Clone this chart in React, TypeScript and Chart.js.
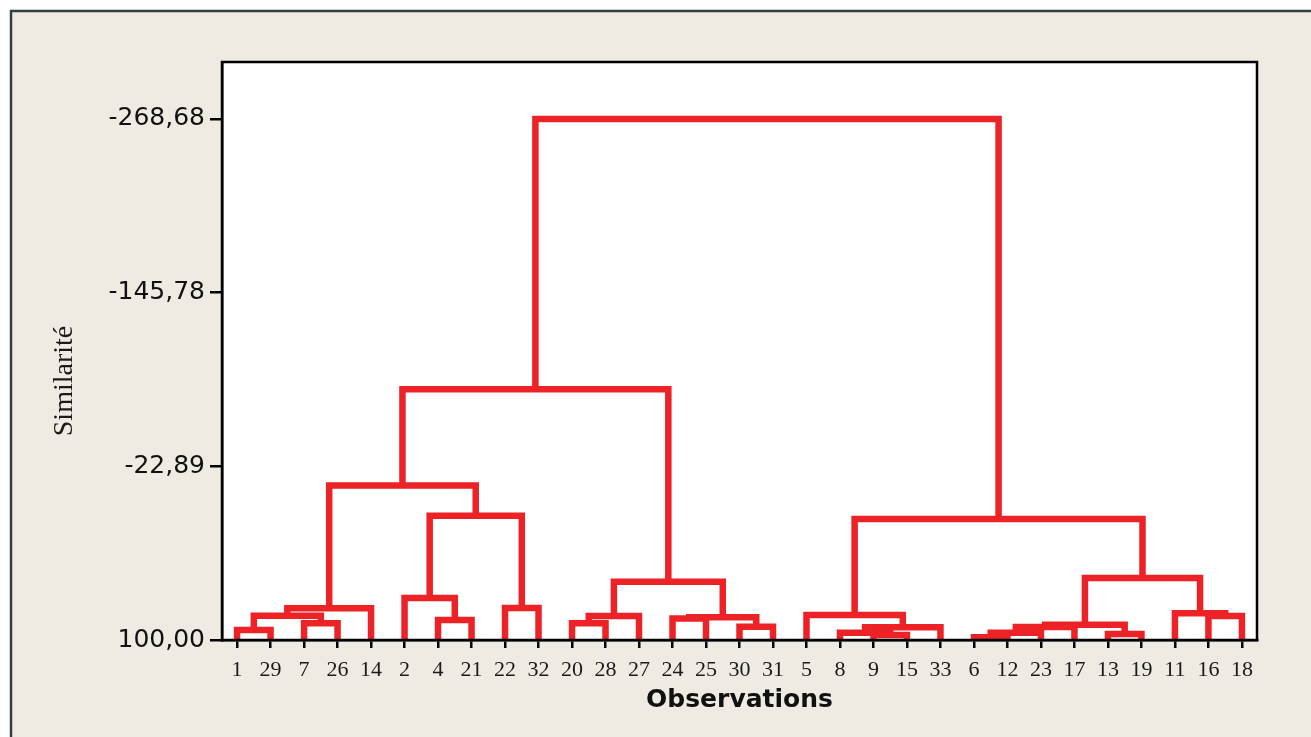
import React, { useEffect, useRef } from 'react';
import { Chart, registerables } from 'chart.js';

Chart.register(...registerables);

// Leaves in dendrogram order
const leafLabels = ['1', '29', '7', '26', '14', '2', '4', '21', '22', '32', '20', '28', '27', '24', '25', '30', '31', '5', '8', '9', '15', '33', '6', '12', '23', '17', '13', '19', '11', '16', '18'];

// Merge table: ids < 31 are leaves, id 31+k is merge k
const mergeLeft = [0, 2, 31, 33, 6, 5, 8, 36, 34, 10, 40, 13, 15, 42, 41, 39, 19, 18, 48, 17, 22, 51, 52, 26, 53, 29, 28, 55, 50, 46];
const mergeRight = [1, 3, 32, 4, 7, 35, 9, 37, 38, 11, 12, 14, 16, 43, 44, 45, 20, 47, 21, 49, 23, 24, 25, 27, 54, 30, 56, 57, 58, 59];
const mergeHeight = [92.9, 88.2, 82.8, 77.6, 85.8, 70.2, 77.4, 12.1, -9.4, 88.2, 83.0, 84.8, 90.6, 83.9, 58.8, -77.5, 96.5, 94.8, 91.0, 82.3, 98.1, 94.8, 90.8, 95.8, 89.2, 83.0, 81.1, 56.1, 14.4, -268.68];

const yTickValues = [100, -22.89, -145.78, -268.68];
const leafBase = 100;
const yMin = -309;
const yMax = 100;

const RED = '#EC2227';

function buildDatasets() {
  const xs: number[] = leafLabels.map((_, i) => i);
  const hs: number[] = leafLabels.map(() => leafBase);
  const datasets: any[] = [];
  mergeLeft.forEach((l, k) => {
    const r = mergeRight[k];
    const h = mergeHeight[k];
    const xl = xs[l];
    const xr = xs[r];
    datasets.push({
      data: [
        { x: xl, y: hs[l] },
        { x: xl, y: h },
        { x: xr, y: h },
        { x: xr, y: hs[r] },
      ],
      showLine: true,
      borderColor: RED,
      backgroundColor: RED,
      borderWidth: 6.5,
      pointRadius: 0,
      borderJoinStyle: 'miter',
      borderCapStyle: 'butt',
      tension: 0,
      clip: false,
    });
    xs.push((xl + xr) / 2);
    hs.push(h);
  });
  return datasets;
}

const framePlugin = {
  id: 'framePlugin',
  beforeDraw(chart: any) {
    const { ctx, width, height, chartArea } = chart;
    ctx.save();
    ctx.fillStyle = '#ffffff';
    ctx.fillRect(0, 0, width, height);
    ctx.fillStyle = '#EFEBE2';
    ctx.fillRect(10, 10, width - 10, height - 10);
    ctx.strokeStyle = '#34403F';
    ctx.lineWidth = 2.5;
    ctx.beginPath();
    ctx.moveTo(11, height);
    ctx.lineTo(11, 11);
    ctx.lineTo(width, 11);
    ctx.stroke();
    ctx.fillStyle = '#ffffff';
    ctx.fillRect(chartArea.left, chartArea.top, chartArea.right - chartArea.left, chartArea.bottom - chartArea.top);
    // y title
    ctx.translate(65, 381);
    ctx.rotate(-Math.PI / 2);
    ctx.fillStyle = '#1a1a1a';
    ctx.font = '28px "Liberation Serif"';
    ctx.textAlign = 'center';
    ctx.textBaseline = 'middle';
    ctx.fillText('Similarité', 0, 0);
    ctx.restore();
  },
  afterDraw(chart: any) {
    const { ctx, chartArea } = chart;
    ctx.save();
    ctx.strokeStyle = '#000';
    ctx.lineWidth = 2.5;
    ctx.strokeRect(chartArea.left, chartArea.top, chartArea.right - chartArea.left, chartArea.bottom - chartArea.top);
    ctx.restore();
  },
};

export default function App() {
  const ref = useRef<HTMLCanvasElement | null>(null);
  useEffect(() => {
    if (!ref.current) return;
    const chart = new Chart(ref.current, {
      type: 'scatter',
      data: { datasets: buildDatasets() },
      options: {
        animation: false,
        responsive: false,
        devicePixelRatio: 1,
        layout: { padding: { left: 0, top: 62, right: 54, bottom: 0 } },
        plugins: { legend: { display: false }, tooltip: { enabled: false } },
        scales: {
          x: {
            type: 'linear',
            min: -0.45,
            max: leafLabels.length - 1 + 0.45,
            afterFit: (s: any) => { s.height = 97; },
            afterBuildTicks: (s: any) => { s.ticks = leafLabels.map((_, i) => ({ value: i })); },
            ticks: {
              autoSkip: false,
              maxRotation: 0,
              padding: 9,
              color: '#1a1a1a',
              font: { family: '"Liberation Serif"', size: 22 },
              callback: (v: any) => leafLabels[Math.round(Number(v))] ?? '',
            },
            grid: { display: true, drawOnChartArea: false, drawTicks: true, tickLength: 8, color: '#000', lineWidth: 2.5 },
            border: { display: true, color: '#000', width: 2.5 },
            title: {
              display: true,
              text: 'Observations',
              color: '#111',
              font: { family: '"DejaVu Sans"', size: 25, weight: 'bold' },
              padding: { top: 0, bottom: 22 },
            },
          },
          y: {
            type: 'linear',
            reverse: true,
            min: yMin,
            max: yMax,
            afterFit: (s: any) => { s.width = 222; },
            afterBuildTicks: (s: any) => { s.ticks = yTickValues.map((v) => ({ value: v })); },
            ticks: {
              padding: 5,
              color: '#111',
              font: { family: '"DejaVu Sans"', size: 25 },
              callback: (v: any) => Number(v).toFixed(2).replace('.', ','),
            },
            grid: { display: true, drawOnChartArea: false, drawTicks: true, tickLength: 12, color: '#000', lineWidth: 2.5 },
            border: { display: true, color: '#000', width: 2.5 },
          },
        },
      },
      plugins: [framePlugin],
    } as any);
    return () => chart.destroy();
  }, []);
  return (
    <div style={{ position: 'fixed', left: 0, top: 0, width: 1311, height: 737 }}>
      <canvas ref={ref} width={1311} height={737} style={{ display: 'block' }} />
    </div>
  );
}
